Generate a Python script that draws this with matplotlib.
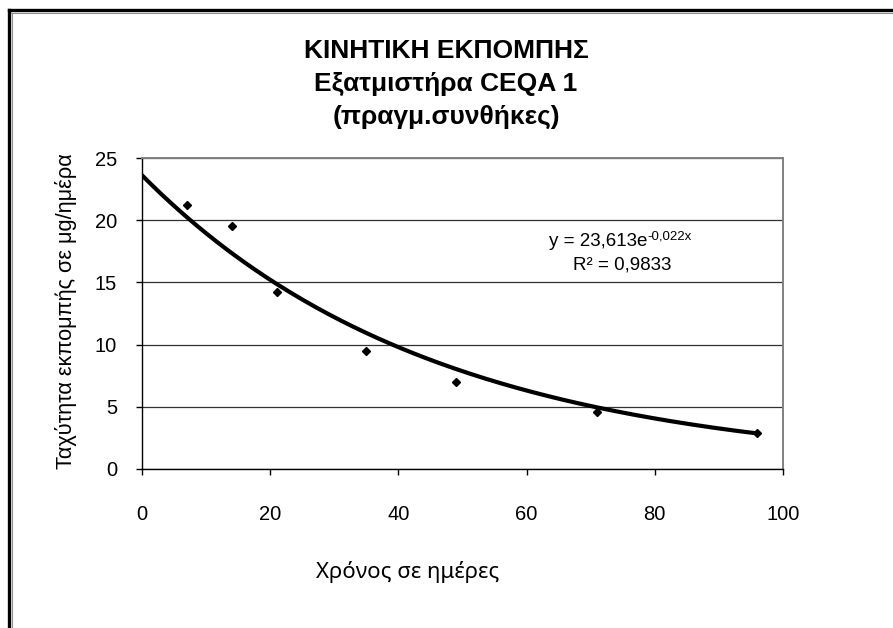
import numpy as np
import matplotlib
matplotlib.use("Agg")
import matplotlib.pyplot as plt
from matplotlib.lines import Line2D

# measured emission rate (μg/day) vs time (days)
days = [7, 14, 21, 35, 49, 71, 96]
rate = [21.2, 19.5, 14.2, 9.5, 7.0, 4.6, 2.9]

# exponential trendline shown on the chart
FIT_A = 23.613
FIT_B = -0.022

title_lines = ["ΚΙΝΗΤΙΚΗ ΕΚΠΟΜΠΗΣ", "Εξατμιστήρα CEQA 1", "(πραγμ.συνθήκες)"]
x_ticks = [0, 20, 40, 60, 80, 100]
y_ticks = [0, 5, 10, 15, 20, 25]

W, H = 893, 628
plt.rcParams["font.family"] = ["Liberation Sans", "DejaVu Sans"]

fig = plt.figure(figsize=(W / 100, H / 100), dpi=100)
fig.patch.set_facecolor("white")


def px(x, y):
    return x / W, 1 - y / H


# outer chart frame (only top and left edges are inside the screenshot)
fig.add_artist(Line2D([9 / W, 1], [1 - 10 / H] * 2, color="black", lw=2.4, transform=fig.transFigure))
fig.add_artist(Line2D([9 / W] * 2, [0, 1 - 10 / H], color="black", lw=2.4, transform=fig.transFigure))
fig.add_artist(Line2D([11 / W, 1], [1 - 12.5 / H] * 2, color="#909090", lw=0.8, transform=fig.transFigure))
fig.add_artist(Line2D([11.5 / W] * 2, [0, 1 - 12.5 / H], color="#909090", lw=0.8, transform=fig.transFigure))

left, right, top, bottom = 142, 783, 158, 469
ax = fig.add_axes([left / W, 1 - bottom / H, (right - left) / W, (bottom - top) / H])

ax.set_xlim(0, 100)
ax.set_ylim(0, 25)
ax.set_xticks(x_ticks)
ax.set_yticks(y_ticks)
ax.yaxis.grid(True, color="#303030", lw=0.9)
ax.set_axisbelow(True)
for side in ("top", "right"):
    ax.spines[side].set_color("#808080")
    ax.spines[side].set_linewidth(1.4)
for side in ("left", "bottom"):
    ax.spines[side].set_color("black")
    ax.spines[side].set_linewidth(1.0)
ax.tick_params(axis="both", direction="out", length=4, width=1, labelsize=14.5)
ax.tick_params(axis="x", pad=22)
ax.tick_params(axis="y", pad=14)

xs = np.linspace(0, max(days), 200)
ax.plot(xs, FIT_A * np.exp(FIT_B * xs), color="black", lw=3, solid_capstyle="round")
ax.plot(days, rate, linestyle="none", marker="D", markersize=4.5, color="black")

# title, three bold lines
for i, line in enumerate(title_lines):
    fig.text(*px(446, 58 + 33 * i), line, ha="center", va="baseline",
             fontsize=19, fontweight="bold")

# trendline equation
fig.text(*px(647, 246), "y = 23,613e", ha="right", va="baseline", fontsize=13.5)
fig.text(*px(647, 239), "-0,022x", ha="left", va="baseline", fontsize=9.5)
fig.text(*px(622, 269), "R² = 0,9833", ha="center", va="baseline", fontsize=13.5)

fig.text(*px(66, 311), "Ταχύτητα εκπομπής σε μg/ημέρα", rotation=90,
         ha="center", va="center", fontsize=15.7)
fig.text(*px(408, 572), "Χρόνος σε ημέρες", ha="center", va="center",
         fontsize=16, family=["Noto Sans", "DejaVu Sans"])

fig.savefig("out.png", dpi=100, facecolor="white")
